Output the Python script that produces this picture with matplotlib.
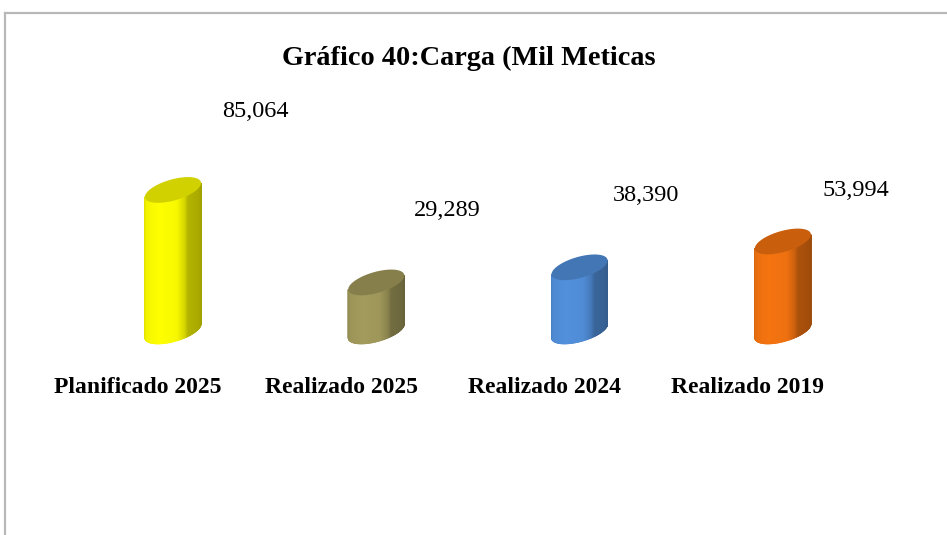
import numpy as np
import matplotlib.pyplot as plt
from matplotlib.collections import PolyCollection
from matplotlib.patches import Polygon
from matplotlib.colors import to_rgb

plt.rcParams['font.family'] = ['Liberation Serif', 'DejaVu Serif']

categorias = ['Planificado 2025', 'Realizado 2025', 'Realizado 2024', 'Realizado 2019']
valores = [85064, 29289, 38390, 53994]
cores = ['#ffff00', '#a39b5c', '#5290dc', '#f57410']
rotulos = ['85,064', '29,289', '38,390', '53,994']

# pixel scale of the axes (figure at 100 dpi)
PX_X = 203.3          # px per category
PX_Y = 165.8 / 100000 # px per value unit

fig = plt.figure(figsize=(9.47, 5.35), dpi=100)
ax = fig.add_axes([36.35 / 947, (535 - 331) / 535, 813.2 / 947, 165.8 / 535])
ax.set_xlim(-0.5, 3.5)
ax.set_ylim(0, 100000)

# cylinder cross-section (ellipse, pixel units)
a_px, b_px, th = 29.0, 10.5, np.radians(16)
desloc = 0.172  # bars sit a bit right of their category label


def elipse(t):
    x = a_px * np.cos(t) * np.cos(th) - b_px * np.sin(t) * np.sin(th)
    y = a_px * np.cos(t) * np.sin(th) + b_px * np.sin(t) * np.cos(th)
    return x / PX_X, y / PX_Y


def brilho(s):
    return np.interp(s, [0, 0.12, 0.35, 0.55, 0.64, 0.69, 1.0],
                     [0.86, 0.95, 1.0, 0.97, 0.84, 0.70, 0.64])


def cilindro(ax, xc, h, cor):
    base = np.array(to_rgb(cor))
    # silhouette angles
    t0 = np.arctan2(-b_px * np.sin(th), a_px * np.cos(th))
    ts = np.linspace(t0, t0 + np.pi, 120)
    _, yy = elipse(ts)
    if yy.mean() > 0:
        ts = np.linspace(t0 + np.pi, t0 + 2 * np.pi, 120)
    ex, ey = elipse(ts)
    if ex[0] > ex[-1]:
        ex, ey = ex[::-1], ey[::-1]
    polys, fcs = [], []
    n = len(ex)
    for k in range(n - 1):
        polys.append([(xc + ex[k], ey[k]), (xc + ex[k + 1], ey[k + 1]),
                      (xc + ex[k + 1], ey[k + 1] + h), (xc + ex[k], ey[k] + h)])
        s = (k + 0.5) / (n - 1)
        fcs.append(np.clip(base * brilho(s), 0, 1))
    pc = PolyCollection(polys, facecolors=fcs, edgecolors=fcs, linewidths=0.6,
                        clip_on=False)
    ax.add_collection(pc)
    tt = np.linspace(0, 2 * np.pi, 100)
    tx, ty = elipse(tt)
    topo = Polygon(np.column_stack([xc + tx, ty + h]), closed=True,
                   facecolor=np.clip(base * 0.82, 0, 1), edgecolor='none',
                   clip_on=False)
    ax.add_patch(topo)


for i, (v, c) in enumerate(zip(valores, cores)):
    cilindro(ax, i + desloc, v, c)

# value labels
pos_rotulos = [(0.575, 132100), (1.52, 72400), (2.50, 82000), (3.53, 85000)]
for (x, y), r in zip(pos_rotulos, rotulos):
    ax.text(x, y, r, ha='center', va='center', fontsize=17.5, color='#000000')

ax.set_xticks(range(len(categorias)))
ax.set_xticklabels(categorias, fontsize=17, fontweight='bold')
ax.tick_params(axis='x', length=0, pad=33)
ax.set_yticks([])
for sp in ax.spines.values():
    sp.set_visible(False)
ax.patch.set_alpha(0)

fig.text(469 / 947, 1 - 58 / 535, 'Gráfico 40:Carga (Mil Meticas', ha='center',
         va='center', fontsize=20.3, fontweight='bold')

# chart frame
fig.add_artist(plt.Line2D([4.5 / 947, 1], [1 - 13 / 535] * 2, color='#b8b8b8', lw=1.6))
fig.add_artist(plt.Line2D([4.5 / 947] * 2, [0, 1 - 13 / 535], color='#b8b8b8', lw=1.6))

plt.savefig('out.png', dpi=100)
